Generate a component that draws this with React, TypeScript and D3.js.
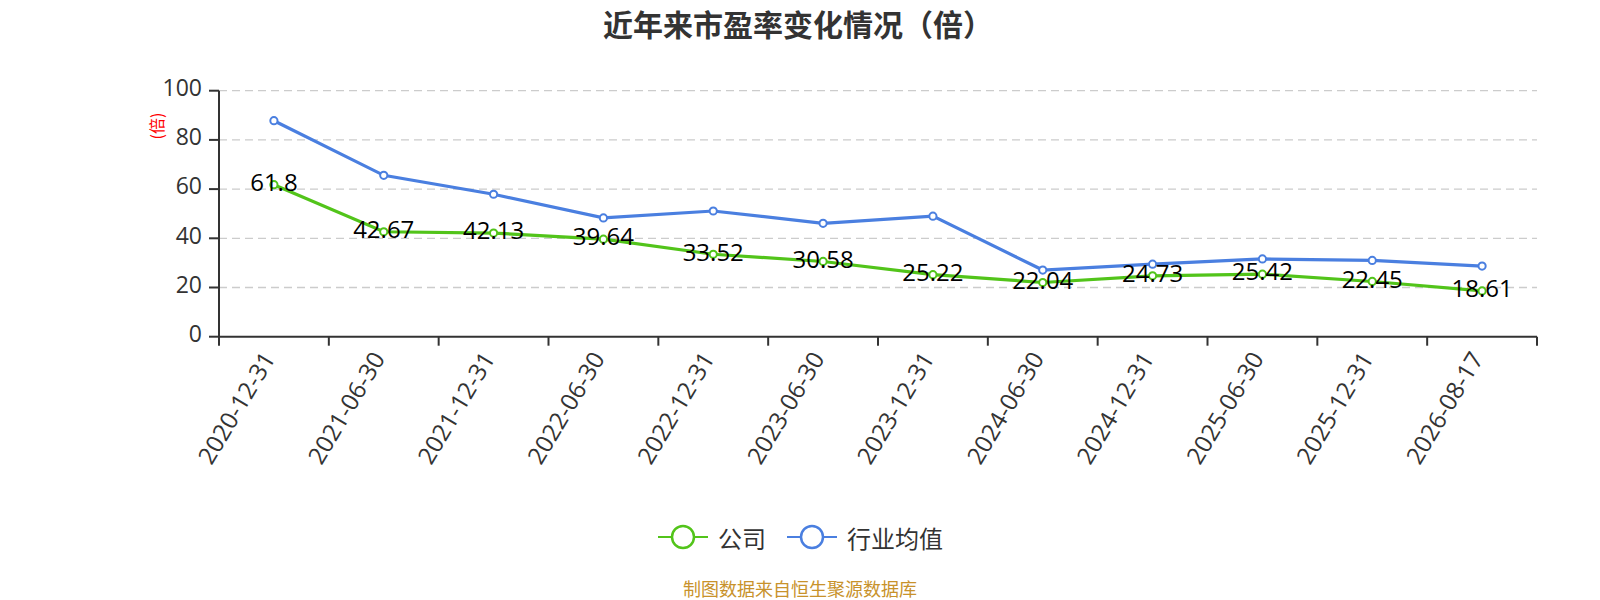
import React from "react";
import * as d3 from "d3";

const categories = [
  "2020-12-31", "2021-06-30", "2021-12-31", "2022-06-30", "2022-12-31", "2023-06-30",
  "2023-12-31", "2024-06-30", "2024-12-31", "2025-06-30", "2025-12-31", "2026-08-17",
];
const companyValues = [61.8, 42.67, 42.13, 39.64, 33.52, 30.58, 25.22, 22.04, 24.73, 25.42, 22.45, 18.61];
const industryValues = [87.8, 65.6, 57.9, 48.3, 51.1, 46.1, 49.0, 27.1, 29.5, 31.6, 31.0, 28.7];
const yTicks = [0, 20, 40, 60, 80, 100];
const seriesNames = ["公司", "行业均值"];
const colors = ["#52c41a", "#4a7fe0"];

const W = 1600, H = 600;
const left = 219, right = 1537, top = 90.7, bottom = 336.7;
const CJK = "'Noto Sans CJK SC', 'Noto Sans', sans-serif";
const NUM = "'Open Sans', 'Noto Sans', sans-serif";

export default function App() {
  const x = d3.scaleBand<string>().domain(categories).range([left, right]);
  const y = d3.scaleLinear().domain([0, 100]).range([bottom, top]);
  const cx = (c: string) => (x(c) as number) + x.bandwidth() / 2;
  const line = d3.line<number>().x((_, i) => cx(categories[i])).y((v) => y(v));
  const series = [companyValues, industryValues];

  return (
    <svg width={W} height={H} style={{ position: "absolute", left: 0, top: 0, background: "#fff" }} fontFamily={CJK}>
      <text x={798} y={23} textAnchor="middle" dominantBaseline="central" fontSize={30} fontWeight="bold" fill="#333">
        近年来市盈率变化情况（倍）
      </text>
      {yTicks.map((t) => (
        <g key={t}>
          {t !== 0 && (
            <line x1={left} x2={right} y1={y(t)} y2={y(t)} stroke="#ccc" strokeWidth={1.3} strokeDasharray="8,5" />
          )}
          <line x1={left - 10} x2={left} y1={y(t)} y2={y(t)} stroke="#333" strokeWidth={2} />
          <text x={202} y={y(t) + 5.2} textAnchor="end" fontFamily={NUM} fontSize={23} fill="#333">
            {t}
          </text>
        </g>
      ))}
      <text transform={`translate(156,126) rotate(-90)`} textAnchor="middle" dominantBaseline="central" fontSize={16} fill="red">
        (倍)
      </text>
      <line x1={left} x2={left} y1={top} y2={bottom} stroke="#333" strokeWidth={2} />
      <line x1={left} x2={right} y1={bottom} y2={bottom} stroke="#333" strokeWidth={2} />
      {categories.map((c, i) => (
        <line key={"t" + i} x1={x(c)} x2={x(c)} y1={bottom} y2={bottom + 9} stroke="#333" strokeWidth={2} />
      ))}
      <line x1={right} x2={right} y1={bottom} y2={bottom + 9} stroke="#333" strokeWidth={2} />
      {categories.map((c) => (
        <text key={c} transform={`translate(${cx(c) - 6},${bottom + 17}) rotate(-59)`} textAnchor="end" dominantBaseline="central" fontFamily={NUM} fontSize={24} fill="#333">
          {c}
        </text>
      ))}
      {series.map((vals, si) => (
        <g key={si}>
          <path d={line(vals) || ""} fill="none" stroke={colors[si]} strokeWidth={3.2} />
          {vals.map((v, i) => (
            <circle key={i} cx={cx(categories[i])} cy={y(v)} r={3.6} fill="#fff" stroke={colors[si]} strokeWidth={2} />
          ))}
        </g>
      ))}
      {companyValues.map((v, i) => (
        <text key={"l" + i} x={cx(categories[i])} y={y(v) + 6.3} textAnchor="middle" fontFamily={NUM} fontSize={24} fill="#000">
          {v}
        </text>
      ))}
      {seriesNames.map((n, i) => {
        const lx = i === 0 ? 658 : 787;
        const ly = 537;
        return (
          <g key={n}>
            <line x1={lx} x2={lx + 50} y1={ly} y2={ly} stroke={colors[i]} strokeWidth={2.2} />
            <circle cx={lx + 25} cy={ly} r={11} fill="#fff" stroke={colors[i]} strokeWidth={2.5} />
            <text x={lx + 60} y={ly} dominantBaseline="central" fontSize={24} fill="#333">
              {n}
            </text>
          </g>
        );
      })}
      <text x={800} y={588} textAnchor="middle" dominantBaseline="central" fontSize={18} fill="#c8922b">
        制图数据来自恒生聚源数据库
      </text>
    </svg>
  );
}
